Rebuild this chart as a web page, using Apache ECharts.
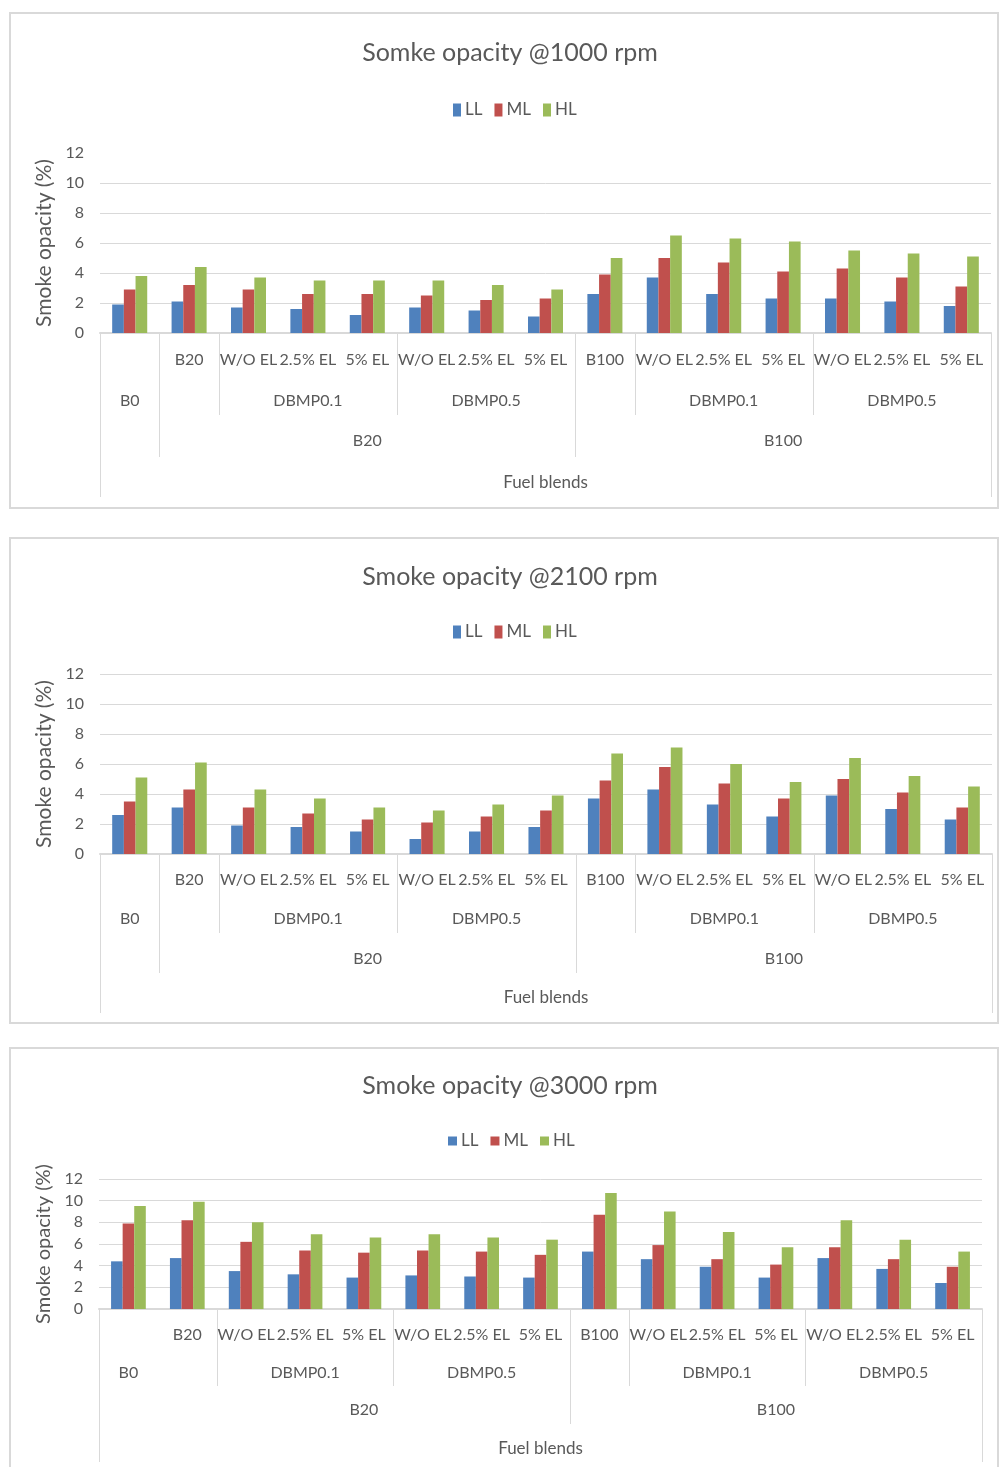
<!DOCTYPE html>
<html>
<head>
<meta charset="utf-8">
<script src="https://cdn.jsdelivr.net/npm/echarts@6/dist/echarts.min.js"></script>
<style>
  html, body { margin: 0; padding: 0; background: #ffffff; }
  #main { width: 999px; height: 1467px; }
</style>
</head>
<body>
<div id="main"></div>
<script>
// ---- data ----
const seriesNames = ['LL', 'ML', 'HL'];
const chartTitles = ['Somke opacity @1000 rpm', 'Smoke opacity @2100 rpm', 'Smoke opacity @3000 rpm'];
const yAxisTitle = 'Smoke opacity (%)';
const xAxisTitle = 'Fuel blends';

// innermost category level (one per bar group)
const leafLabels = ['', 'B20', 'W/O EL', '2.5% EL', '5% EL', 'W/O EL', '2.5% EL', '5% EL',
                    'B100', 'W/O EL', '2.5% EL', '5% EL', 'W/O EL', '2.5% EL', '5% EL'];
// middle level: [label, first index, last index]
const additiveGroups = [['B0', 0, 0], ['', 1, 1], ['DBMP0.1', 2, 4], ['DBMP0.5', 5, 7],
                        ['', 8, 8], ['DBMP0.1', 9, 11], ['DBMP0.5', 12, 14]];
// outer level: [label, first index, last index]
const blendGroups = [['', 0, 0], ['B20', 1, 7], ['B100', 8, 14]];

const yTicks = [0, 2, 4, 6, 8, 10, 12];

const ll1000 = [1.9, 2.1, 1.7, 1.6, 1.2, 1.7, 1.5, 1.1, 2.6, 3.7, 2.6, 2.3, 2.3, 2.1, 1.8];
const ml1000 = [2.9, 3.2, 2.9, 2.6, 2.6, 2.5, 2.2, 2.3, 3.9, 5.0, 4.7, 4.1, 4.3, 3.7, 3.1];
const hl1000 = [3.8, 4.4, 3.7, 3.5, 3.5, 3.5, 3.2, 2.9, 5.0, 6.5, 6.3, 6.1, 5.5, 5.3, 5.1];

const ll2100 = [2.6, 3.1, 1.9, 1.8, 1.5, 1.0, 1.5, 1.8, 3.7, 4.3, 3.3, 2.5, 3.9, 3.0, 2.3];
const ml2100 = [3.5, 4.3, 3.1, 2.7, 2.3, 2.1, 2.5, 2.9, 4.9, 5.8, 4.7, 3.7, 5.0, 4.1, 3.1];
const hl2100 = [5.1, 6.1, 4.3, 3.7, 3.1, 2.9, 3.3, 3.9, 6.7, 7.1, 6.0, 4.8, 6.4, 5.2, 4.5];

const ll3000 = [4.4, 4.7, 3.5, 3.2, 2.9, 3.1, 3.0, 2.9, 5.3, 4.6, 3.9, 2.9, 4.7, 3.7, 2.4];
const ml3000 = [7.9, 8.2, 6.2, 5.4, 5.2, 5.4, 5.3, 5.0, 8.7, 5.9, 4.6, 4.1, 5.7, 4.6, 3.9];
const hl3000 = [9.5, 9.9, 8.0, 6.9, 6.6, 6.9, 6.6, 6.4, 10.7, 9.0, 7.1, 5.7, 8.2, 6.4, 5.3];

const chartValues = [
  [ll1000, ml1000, hl1000],
  [ll2100, ml2100, hl2100],
  [ll3000, ml3000, hl3000]
];

// ---- layout & style ----
const FONT = 'Lato, "Open Sans", sans-serif';
const TEXT = '#595959';
const RULE = '#d9d9d9';
const COLORS = ['#4f81bd', '#c0504d', '#9bbb59'];

const panels = [
  { box: [10, 13, 988, 495], grid: { left: 100, right: 8, top: 153, height: 180 },
    titleY: 53, legendY: 108, legendLeft: 453, marker: [8, 13], nameSize: 21,
    rows: [27, 68, 108, 150], ends: [82, 124, 164], skip: [], hideTopLine: true },
  { box: [10, 538, 988, 485], grid: { left: 100, right: 7, top: 674, height: 180 },
    titleY: 577, legendY: 630, legendLeft: 453, marker: [8, 13], nameSize: 21,
    rows: [26, 65, 105, 144], ends: [79, 119, 159], skip: [], hideTopLine: false },
  { box: [10, 1048, 988, 440], grid: { left: 99, right: 17, top: 1179, height: 130 },
    titleY: 1086, legendY: 1137, legendLeft: 448, marker: [9, 9], nameSize: 20,
    rows: [26, 64, 101, 140], ends: [77, 115, 153], skip: [0.5], hideTopLine: false }
];

// category-axis labels and divider lines, positioned on a value axis that spans the bands
function buildAxisDecor(panel) {
  const texts = [];
  leafLabels.forEach((t, i) => { if (t) texts.push({ x: i, row: 0, text: t }); });
  additiveGroups.forEach(g => { if (g[0]) texts.push({ x: (g[1] + g[2]) / 2, row: 1, text: g[0] }); });
  blendGroups.forEach(g => { if (g[0]) texts.push({ x: (g[1] + g[2]) / 2, row: 2, text: g[0] }); });
  texts.push({ x: (leafLabels.length - 1) / 2, row: 3, text: xAxisTitle });

  const lines = [];
  const outer = new Set(blendGroups.slice(0, -1).map(g => g[2] + 0.5));
  lines.push({ x: -0.5, depth: 2 });
  lines.push({ x: leafLabels.length - 0.5, depth: 2 });
  outer.forEach(x => { if (panel.skip.indexOf(x) < 0) lines.push({ x: x, depth: 1 }); });
  additiveGroups.slice(0, -1).forEach(g => {
    const x = g[2] + 0.5;
    if (!outer.has(x) && panel.skip.indexOf(x) < 0) lines.push({ x: x, depth: 0 });
  });
  return { texts, lines };
}

const option = {
  animation: false,
  backgroundColor: '#ffffff',
  textStyle: { fontFamily: FONT },
  title: [], legend: [], grid: [], xAxis: [], yAxis: [], series: [],
  graphic: []
};

panels.forEach((p, k) => {
  option.graphic.push({
    type: 'rect', silent: true, z: -10,
    shape: { x: p.box[0], y: p.box[1], width: p.box[2], height: p.box[3] },
    style: { fill: '#ffffff', stroke: RULE, lineWidth: 2 }
  });

  option.title.push({
    text: chartTitles[k], left: 510, textAlign: 'center', top: p.titleY - 13, padding: 0,
    textStyle: { color: TEXT, fontFamily: FONT, fontWeight: 'normal', fontSize: 25, lineHeight: 26 }
  });

  option.legend.push({
    data: seriesNames, left: p.legendLeft, top: p.legendY - p.marker[1] / 2, padding: 0,
    icon: 'rect', itemWidth: p.marker[0], itemHeight: p.marker[1], itemGap: 12,
    textStyle: { color: TEXT, fontFamily: FONT, fontSize: 17, padding: [0, 0, 0, -1] }
  });

  option.grid.push(Object.assign({ containLabel: false }, p.grid));

  // category axis carrying the bars
  option.xAxis.push({
    type: 'category', gridIndex: k, data: leafLabels.map((t, i) => String(i)),
    boundaryGap: true,
    axisLine: { lineStyle: { color: RULE, width: 2 } },
    axisTick: { show: false }, axisLabel: { show: false }, splitLine: { show: false }
  });
  // band-aligned value axis used for the multi-level labels
  option.xAxis.push({
    type: 'value', gridIndex: k, min: -0.5, max: leafLabels.length - 0.5, show: false
  });

  const splitColors = yTicks.map((t, i) => (p.hideTopLine && i === yTicks.length - 1) ? 'rgba(0,0,0,0)' : RULE);
  option.yAxis.push({
    type: 'value', gridIndex: k,
    min: yTicks[0], max: yTicks[yTicks.length - 1], interval: yTicks[1] - yTicks[0],
    name: yAxisTitle, nameLocation: 'middle', nameRotate: 90, nameGap: 43,
    nameTextStyle: { color: TEXT, fontFamily: FONT, fontSize: p.nameSize },
    axisLine: { show: false }, axisTick: { show: false },
    axisLabel: { color: TEXT, fontFamily: FONT, fontSize: 16, margin: 16 },
    splitLine: { lineStyle: { color: splitColors, width: 1 } }
  });

  seriesNames.forEach((name, s) => {
    option.series.push({
      name: name, type: 'bar', xAxisIndex: 2 * k, yAxisIndex: k,
      data: chartValues[k][s],
      barGap: '0%', barCategoryGap: '41%',
      itemStyle: { color: COLORS[s] }
    });
  });

  const decor = buildAxisDecor(p);
  option.series.push({
    name: 'axis-lines-' + k, type: 'custom', xAxisIndex: 2 * k + 1, yAxisIndex: k,
    silent: true, clip: false, z: 1,
    data: decor.lines.map(l => [l.x, 0]),
    renderItem: function (params, api) {
      const l = decor.lines[params.dataIndex];
      const pt = api.coord([l.x, 0]);
      const x = Math.round(pt[0]) + 0.5;
      return {
        type: 'line',
        shape: { x1: x, y1: pt[1], x2: x, y2: pt[1] + p.ends[l.depth] },
        style: { stroke: RULE, lineWidth: 1 }
      };
    }
  });
  option.series.push({
    name: 'axis-labels-' + k, type: 'custom', xAxisIndex: 2 * k + 1, yAxisIndex: k,
    silent: true, clip: false, z: 2,
    data: decor.texts.map(t => [t.x, 0]),
    renderItem: function (params, api) {
      const t = decor.texts[params.dataIndex];
      const pt = api.coord([t.x, 0]);
      return {
        type: 'text', x: pt[0], y: pt[1] + p.rows[t.row],
        style: {
          text: t.text, fill: TEXT, align: 'center', verticalAlign: 'middle',
          font: (t.row === 3 ? 17 : 16) + 'px ' + FONT
        }
      };
    }
  });
});

const chart = echarts.init(document.getElementById('main'), null, { renderer: 'canvas' });
chart.setOption(option);
</script>
</body>
</html>
